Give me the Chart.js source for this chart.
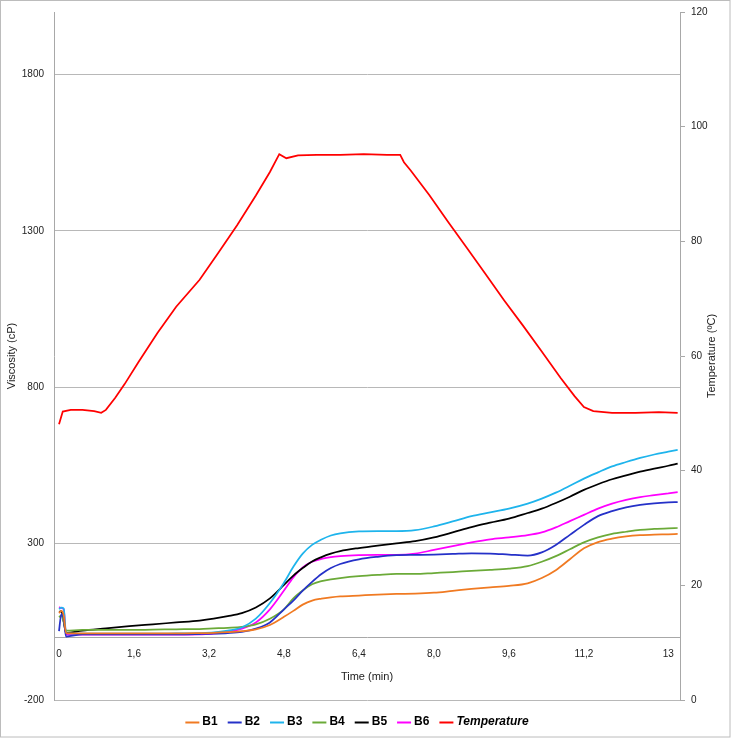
<!DOCTYPE html>
<html><head><meta charset="utf-8">
<script src="https://cdn.jsdelivr.net/npm/chart.js@4"></script>
<style>html,body{margin:0;padding:0;background:#fff}canvas{display:block}</style>
</head><body>
<canvas id="c" width="731" height="739"></canvas>
<script>
// ---- data ----
const timeVisc = [0, 0.05, 0.1, 0.15, 0.5, 1, 1.5, 2, 2.5, 3, 3.3, 3.6, 3.9, 4.2, 4.5, 4.8, 5.0, 5.2, 5.4, 5.6, 5.8, 6.0, 6.4, 6.8, 7.2, 7.6, 8.0, 8.4, 8.8, 9.2, 9.6, 10.0, 10.3, 10.6, 10.9, 11.2, 11.5, 11.8, 12.1, 12.4, 12.7, 13.0, 13.2];
const B1 = [78, 85, 70, 14, 13, 13, 13, 13, 13, 14, 15, 17, 20, 26, 40, 66, 85, 105, 118, 124, 128, 131, 134, 137, 139, 140, 143, 149, 155, 160, 165, 173, 190, 215, 250, 285, 305, 316, 323, 327, 329, 330, 331];
const B2 = [20, 75, 60, 3, 10, 10, 10, 10, 10, 11, 12, 14, 18, 28, 48, 90, 118, 150, 178, 203, 222, 235, 250, 258, 263, 264, 265, 267, 269, 268, 265, 262, 272, 296, 328, 360, 388, 404, 416, 424, 429, 432, 433];
const B3 = [91, 95, 92, 14, 12, 12, 12, 12, 13, 14, 16, 22, 32, 60, 110, 175, 226, 268, 296, 313, 326, 333, 339, 340, 340, 343, 355, 371, 388, 400, 412, 428, 444, 463, 485, 508, 528, 547, 561, 574, 585, 594, 600];
const B4 = [65, 70, 50, 22, 24, 24, 24, 25, 26, 27, 29, 31, 34, 42, 60, 90, 125, 150, 170, 180, 186, 190, 196, 200, 203, 203, 206, 209, 213, 216, 220, 228, 242, 260, 282, 304, 320, 331, 338, 344, 347, 349, 350];
const B5 = [82, 84, 50, 15, 22, 29, 36, 42, 48, 54, 60, 68, 78, 96, 125, 168, 198, 222, 243, 257, 268, 276, 286, 294, 301, 308, 320, 336, 353, 367, 380, 398, 412, 430, 450, 472, 490, 506, 518, 530, 540, 549, 556];
const B6 = [97, 94, 90, 10, 9, 9, 9, 9, 9, 10, 12, 18, 28, 48, 90, 150, 192, 224, 242, 251, 257, 260, 263, 264, 264, 268, 280, 292, 304, 314, 320, 327, 336, 352, 372, 392, 412, 428, 440, 449, 455, 461, 465];
const timeTemp = [0, 0.08, 0.25, 0.5, 0.75, 0.9, 1.0, 1.2, 1.4, 1.7, 2.1, 2.5, 3.0, 3.4, 3.8, 4.2, 4.5, 4.7, 4.85, 5.1, 5.5, 6.0, 6.5, 7.0, 7.28, 7.36, 7.5, 7.9, 8.3, 8.7, 9.1, 9.5, 9.9, 10.3, 10.7, 11.0, 11.2, 11.4, 11.8, 12.3, 12.8, 13.2];
const temperature = [48.1, 50.3, 50.6, 50.6, 50.4, 50.1, 50.6, 52.7, 55.1, 59, 64, 68.6, 73.3, 78, 82.8, 88, 92.1, 95.2, 94.5, 95, 95.1, 95.1, 95.2, 95.1, 95.1, 93.8, 92.4, 88.1, 83.4, 78.9, 74.3, 69.7, 65.3, 60.8, 56.2, 53, 51.1, 50.4, 50.1, 50.1, 50.2, 50.1];

const xTickValues = [0, 1.6, 3.2, 4.8, 6.4, 8.0, 9.6, 11.2, 13];
const xTickLabels = ['0', '1,6', '3,2', '4,8', '6,4', '8,0', '9,6', '11,2', '13'];
const viscTicks = [-200, 300, 800, 1300, 1800];
const tempTicks = [0, 20, 40, 60, 80, 100, 120];
const seriesNames = ['B1', 'B2', 'B3', 'B4', 'B5', 'B6', 'Temperature'];
const seriesColors = ['#F07A22', '#2531C8', '#1EB4EC', '#6BAA38', '#000000', '#FF00FF', '#FF0000'];

// ---- helpers ----
const pts = (xs, ys) => xs.map((x, i) => ({ x: x, y: ys[i] }));
const FONT = 'Liberation Sans, Arial, sans-serif';
const viscSeries = [B1, B2, B3, B4, B5, B6];

const datasets = viscSeries.map((arr, i) => ({
  label: seriesNames[i],
  data: pts(timeVisc, arr),
  borderColor: seriesColors[i],
  backgroundColor: seriesColors[i],
  yAxisID: 'y1',
  cubicInterpolationMode: 'monotone'
}));
datasets.push({
  label: seriesNames[6],
  data: pts(timeTemp, temperature),
  borderColor: seriesColors[6],
  backgroundColor: seriesColors[6],
  yAxisID: 'y2',
  tension: 0
});

const bgPlugin = {
  id: 'bg',
  beforeDraw(chart) {
    const ctx = chart.ctx;
    ctx.save();
    ctx.fillStyle = '#fff';
    ctx.fillRect(0, 0, chart.width, chart.height);
    ctx.restore();
  },
  afterDraw(chart) {
    const ctx = chart.ctx;
    ctx.save();
    ctx.strokeStyle = '#bcbcbc';
    ctx.lineWidth = 1;
    ctx.strokeRect(0.5, 0.5, 729.5, 736.5);
    // right axis title (reads bottom-to-top)
    const ca = chart.chartArea;
    ctx.translate(712, (ca.top + ca.bottom) / 2);
    ctx.rotate(-Math.PI / 2);
    ctx.font = '11px ' + FONT;
    ctx.fillStyle = '#222';
    ctx.textAlign = 'center';
    ctx.textBaseline = 'middle';
    ctx.fillText('Temperature (ºC)', 0, 0);
    ctx.restore();
  }
};

const customLegend = {
  id: 'customLegend',
  afterDraw(chart) {
    const ctx = chart.ctx;
    const items = chart.data.datasets.map(ds => ({ label: ds.label, color: ds.borderColor, italic: ds.yAxisID === 'y2' }));
    ctx.save();
    const y = 722;
    const fontFor = it => (it.italic ? 'italic ' : '') + 'bold 12px ' + FONT;
    const widths = items.map(it => { ctx.font = fontFor(it); return 14 + 3 + ctx.measureText(it.label).width; });
    const gap = 10;
    const total = widths.reduce((a, b) => a + b, 0) + gap * (items.length - 1);
    let x = 357 - total / 2;
    items.forEach((it, i) => {
      ctx.strokeStyle = it.color;
      ctx.lineWidth = 2;
      ctx.beginPath();
      ctx.moveTo(x, y + 0.5);
      ctx.lineTo(x + 14, y + 0.5);
      ctx.stroke();
      ctx.font = fontFor(it);
      ctx.fillStyle = '#000';
      ctx.textAlign = 'left';
      ctx.textBaseline = 'middle';
      ctx.fillText(it.label, x + 17, y);
      x += widths[i] + gap;
    });
    ctx.restore();
  }
};

new Chart(document.getElementById('c'), {
  type: 'line',
  data: { datasets: datasets },
  options: {
    responsive: false,
    animation: false,
    layout: { padding: { top: 12, left: 0, right: 0, bottom: 39 } },
    plugins: { legend: { display: false }, tooltip: { enabled: false } },
    elements: { point: { radius: 0 }, line: { borderWidth: 1.75 } },
    scales: {
      x: {
        type: 'linear',
        position: { y1: 0 },
        min: -0.107,
        max: 13.25,
        afterFit(s) { s.height = 0; s.paddingLeft = 0; s.paddingRight = 0; },
        afterBuildTicks(s) { s.ticks = xTickValues.map(v => ({ value: v })); },
        ticks: {
          autoSkip: false, maxRotation: 0, minRotation: 0, padding: 11,
          font: { family: FONT, size: 10 }, color: '#222',
          callback: (v, i) => xTickLabels[i]
        },
        grid: { drawOnChartArea: false, drawTicks: false },
        border: { display: true, color: '#a8a8a8', width: 1 },
        title: { display: true, text: 'Time (min)', font: { family: FONT, size: 11 }, color: '#222', padding: { top: 0, bottom: -46 } }
      },
      y1: {
        type: 'linear',
        position: 'left',
        min: -200,
        max: 2000,
        afterFit(s) { s.width = 54; s.paddingTop = 0; s.paddingBottom = 0; },
        afterBuildTicks(s) { s.ticks = viscTicks.map(v => ({ value: v })); },
        ticks: { padding: 10, font: { family: FONT, size: 10 }, color: '#222', callback: v => String(v) },
        grid: { color: '#b8b8b8', drawTicks: false },
        border: { color: '#a8a8a8' },
        title: { display: true, text: 'Viscosity (cP)', font: { family: FONT, size: 11 }, color: '#222', padding: { top: 5, bottom: 0 } }
      },
      y2: {
        type: 'linear',
        position: 'right',
        min: 0,
        max: 120,
        afterFit(s) { s.width = 51; s.paddingTop = 0; s.paddingBottom = 0; },
        afterBuildTicks(s) { s.ticks = tempTicks.map(v => ({ value: v })); },
        ticks: { padding: 6, font: { family: FONT, size: 10 }, color: '#222', callback: v => String(v) },
        grid: { drawOnChartArea: false, drawTicks: true, tickLength: 5, color: '#a8a8a8' },
        border: { color: '#a8a8a8' }
      }
    }
  },
  plugins: [bgPlugin, customLegend]
});
</script>
</body></html>
